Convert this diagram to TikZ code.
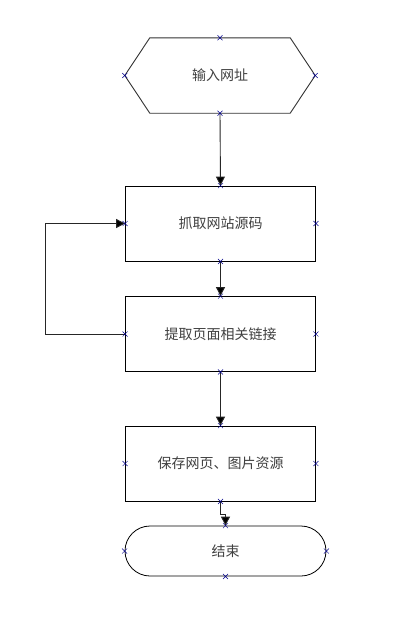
\documentclass[tikz,border=0pt]{standalone}
\usepackage{fontspec}
\setmainfont{Noto Sans CJK SC}
\usetikzlibrary{shapes.misc,arrows.meta,calc}
\tikzset{
  x=1pt,y=-1pt,
  box/.style={draw=black,line width=0.8pt,minimum width=190pt,minimum height=75pt,inner sep=0pt,text=black!75,font=\fontsize{14}{16}\selectfont},
  term/.style={draw=black,line width=0.8pt,rounded corners=25pt,minimum width=201pt,minimum height=50pt,inner sep=0pt,text=black!75,font=\fontsize{14}{16}\selectfont},
  hexbox/.style={minimum width=190pt,minimum height=75pt,inner sep=0pt,text=black!75,font=\fontsize{14}{16}\selectfont},
  conn/.style={line width=0.9pt,draw=black!85,-{Triangle[length=9pt,width=9pt,fill=black]}},
  mk/.style={cross out,draw=blue!55!black,line width=0.5pt,minimum size=4.5pt,inner sep=0pt}
}
\begin{document}
\begin{tikzpicture}
\fill[white] (0,0) rectangle (412,638);
\useasboundingbox (0,0) rectangle (412,638);
\node[hexbox] (hex) at (220,75.5) {输入网址};
\draw[draw=black!80,line width=0.9pt] (hex.west) -- ($(hex.north west)+(25,0)$) -- ($(hex.north east)+(-25,0)$) -- (hex.east) -- ($(hex.south east)+(-25,0)$) -- ($(hex.south west)+(25,0)$) -- cycle;
\node[box] (b1) at (220.5,223.5) {抓取网站源码};
\node[box] (b2) at (220.5,334) {提取页面相关链接};
\node[box] (b3) at (220.5,463.5) {保存网页、图片资源};
\node[term] (t) at (225.5,551) {结束};
\draw[conn] (hex.south) -- (b1.north);
\draw[conn] (b1.south) -- (b2.north);
\draw[conn] (b2.south) -- (b3.north);
\draw[conn] (b2.west) -- ++(-80,0) |- (b1.west);
\draw[conn] (b3.south) -- ++(0,13) -| (t.north);
\foreach \n in {hex,b1,b2,b3,t}{
  \foreach \a in {north,south,east,west}{
    \node[mk] at (\n.\a) {};
  }
}
\end{tikzpicture}
\end{document}
